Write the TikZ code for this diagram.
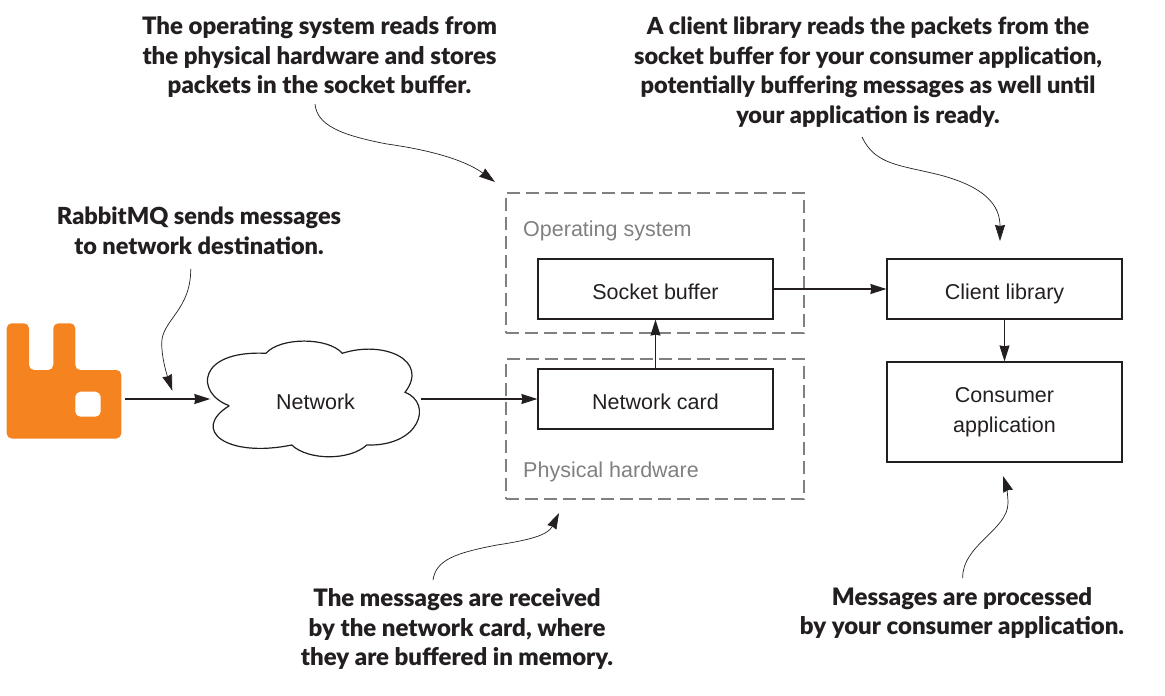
\documentclass[tikz,border=0pt]{standalone}
\usepackage{fontspec}
\setmainfont{Liberation Sans}
\newfontfamily\calloutfont{Lato Black}
\usepackage{xcolor}
\usetikzlibrary{arrows.meta}
\usetikzlibrary{positioning}
\definecolor{rabbitorange}{HTML}{F58420}
\definecolor{inkdark}{HTML}{231F20}
\definecolor{dashgray}{HTML}{808080}
\tikzset{>={Stealth[length=16pt,width=10pt,inset=1pt]}}
\tikzset{
  boxnode/.style={draw=inkdark,line width=1.2pt,minimum width=235pt,minimum height=60pt,inner sep=0pt,text=inkdark,font=\fontsize{21.5}{30}\selectfont,align=center},
  oneline/.style={text height=20pt,text depth=0pt},
  layernode/.style={draw=dashgray,line width=1.2pt,dash pattern=on 13pt off 6pt,minimum width=298pt,minimum height=140pt,inner sep=0pt},
  layerlabel/.style={text=dashgray,font=\fontsize{21.5}{25}\selectfont,inner sep=0pt,anchor=base west},
  callout/.style={text=inkdark,font=\calloutfont\fontsize{24}{29.5}\selectfont,align=center,inner sep=0pt},
  calloutwide/.style={callout,font=\calloutfont\fontsize{23.5}{29.5}\selectfont},
  flow/.style={->,draw=inkdark,line width=1.2pt},
  pointer/.style={->,draw=inkdark,line width=0.7pt}
}
\begin{document}
\begin{tikzpicture}[x=1pt,y=-1pt]
  \useasboundingbox (0,0) rectangle (1165,696);
  % layers
  \node[layernode] (os) at (655,263) {};
  \node[layernode] (hw) at (655,429) {};
  \node[layerlabel] (oslabel) at (523,236) {Operating system};
  \node[layerlabel] (hwlabel) at (523,477) {Physical hardware};
  % boxes
  \node[boxnode,oneline] (socket) at (655.5,289) {Socket buffer};
  \node[boxnode,oneline] (card) at (655.5,399) {Network card};
  \node[boxnode,oneline] (client) at (1004.5,289) {Client library};
  \node[boxnode,minimum height=100pt] (consumer) at (1004.5,412) {Consumer\\application};
  % rabbit
  \fill[rabbitorange,even odd rule,rounded corners=5pt]
    (6.7,323.3) -- (29,323.3) -- (29,370) -- (53.3,370) -- (53.3,323.3) -- (75.3,323.3)
    -- (75.3,370) -- (121.3,370) -- (121.3,438.5) -- (6.7,438.5) -- cycle
    (75.3,391.7) -- (100.7,391.7) -- (100.7,416.7) -- (75.3,416.7) -- cycle;
  \coordinate (rabbit) at (125,399);
  % cloud
  \draw[draw=inkdark,line width=1.2pt,fill=white] (229.3,405.7)
    .. controls (195,393.3) and (196.7,350) .. (266,353.3)
    .. controls (280,337) and (328.3,337) .. (342.3,353.3)
    .. controls (383.3,340) and (430,360) .. (405,392.3)
    .. controls (433.3,403.3) and (420,446.7) .. (366.7,445)
    .. controls (350,460.7) and (308.3,460.7) .. (291.7,445)
    .. controls (226.7,458.3) and (190,430) .. (229.3,405.7);
  \node[oneline,inner sep=0pt,minimum width=210pt,minimum height=60pt,text=inkdark,font=\fontsize{21.5}{25}\selectfont] (network) at (315.5,399) {Network};
  % flows
  \draw[flow] (rabbit) -- (network);
  \draw[flow] (network) -- (card);
  \draw[flow] (card) -- (socket);
  \draw[flow] (socket.east) -- (client.west);
  \draw[flow] (client) -- (consumer);
  % callouts
  \node[calloutwide] (sendtext) at (199,231) {RabbitMQ sends messages\\to network destination.};
  \node[callout] (ostext) at (319.5,57) {The operating system reads from\\the physical hardware and stores\\packets in the socket buffer.};
  \node[calloutwide] (clienttext) at (868,72) {A client library reads the packets from the\\socket buffer for your consumer application,\\potentially buffering messages as well until\\your application is ready.};
  \node[callout] (cardtext) at (457,629) {The messages are received\\by the network card, where\\they are buffered in memory.};
  \node[callout] (consumertext) at (962,613) {Messages are processed\\by your consumer application.};
  \coordinate (sendtip) at (172.3,390.7);
  \coordinate (ostip) at (495,182);
  \coordinate (clienttip) at (1000,241);
  \coordinate (cardtip) at (559,513);
  \coordinate (consumertip) at (1003,476);
  \draw[pointer] (190.7,269) .. controls (191,310) and (162,320) .. (161.7,343) .. controls (161.7,360) and (168,378) .. (sendtip);
  \draw[pointer] (315,104) .. controls (317,125) and (340,135) .. (387,144) .. controls (430,150) and (465,160) .. (ostip);
  \draw[pointer] (862,137) .. controls (875,165) and (900,165) .. (940,175) .. controls (985,187) and (1000,205) .. (clienttip);
  \draw[pointer] (433,580) .. controls (436,560) and (455,553) .. (497,545) .. controls (530,540) and (548,535) .. (cardtip);
  \draw[pointer] (962.7,578) .. controls (962,545) and (1008,530) .. (1008,503) .. controls (1008,495) and (1006,485) .. (consumertip);
\end{tikzpicture}
\end{document}
